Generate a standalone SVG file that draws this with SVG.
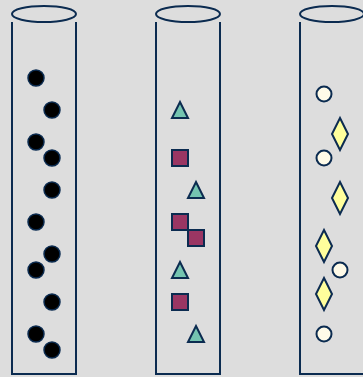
<svg xmlns="http://www.w3.org/2000/svg" width="363" height="377" viewBox="0 0 363 377">
<style>
.tube{fill:none;stroke:#0b2b50;stroke-width:2}
.dot{fill:#000;stroke:#0b2b50;stroke-width:1.5}
.tri{fill:#74c4b0;stroke:#0b2b50;stroke-width:2;stroke-linejoin:miter}
.sq{fill:#9a3663;stroke:#0b2b50;stroke-width:2}
.dia{fill:#ffff9c;stroke:#0b2b50;stroke-width:2}
.cir{fill:#fffbe8;stroke:#0b2b50;stroke-width:2}
</style>
<defs>
<circle id="d" r="8" class="dot"/>
<polygon id="t" points="0,-8 8,8 -8,8" class="tri"/>
<rect id="s" x="-8" y="-8" width="16" height="16" class="sq"/>
<polygon id="m" points="0,-16 8,0 0,16 -8,0" class="dia"/>
<circle id="c" r="7.5" class="cir"/>
</defs>
<rect width="363" height="377" fill="#dddddd"/>
<g id="tube1">
<ellipse cx="44" cy="14" rx="32" ry="8" class="tube"/>
<polyline points="12,22 12,374 76,374 76,22" class="tube"/>
<use href="#d" x="36" y="78"/>
<use href="#d" x="52" y="110"/>
<use href="#d" x="36" y="142"/>
<use href="#d" x="52" y="158"/>
<use href="#d" x="52" y="190"/>
<use href="#d" x="36" y="222"/>
<use href="#d" x="52" y="254"/>
<use href="#d" x="36" y="270"/>
<use href="#d" x="52" y="302"/>
<use href="#d" x="36" y="334"/>
<use href="#d" x="52" y="350"/>
</g>
<g id="tube2">
<ellipse cx="188" cy="14" rx="32" ry="8" class="tube"/>
<polyline points="156,22 156,374 220,374 220,22" class="tube"/>
<use href="#t" x="180" y="110"/>
<use href="#s" x="180" y="158"/>
<use href="#t" x="196" y="190"/>
<use href="#s" x="180" y="222"/>
<use href="#s" x="196" y="238"/>
<use href="#t" x="180" y="270"/>
<use href="#s" x="180" y="302"/>
<use href="#t" x="196" y="334"/>
</g>
<g id="tube3">
<ellipse cx="332" cy="14" rx="32" ry="8" class="tube"/>
<polyline points="300,22 300,374 364,374 364,22" class="tube"/>
<use href="#c" x="324" y="94"/>
<use href="#m" x="340" y="134"/>
<use href="#c" x="324" y="158"/>
<use href="#m" x="340" y="198"/>
<use href="#m" x="324" y="246"/>
<use href="#c" x="340" y="270"/>
<use href="#m" x="324" y="294"/>
<use href="#c" x="324" y="334"/>
</g>
</svg>
